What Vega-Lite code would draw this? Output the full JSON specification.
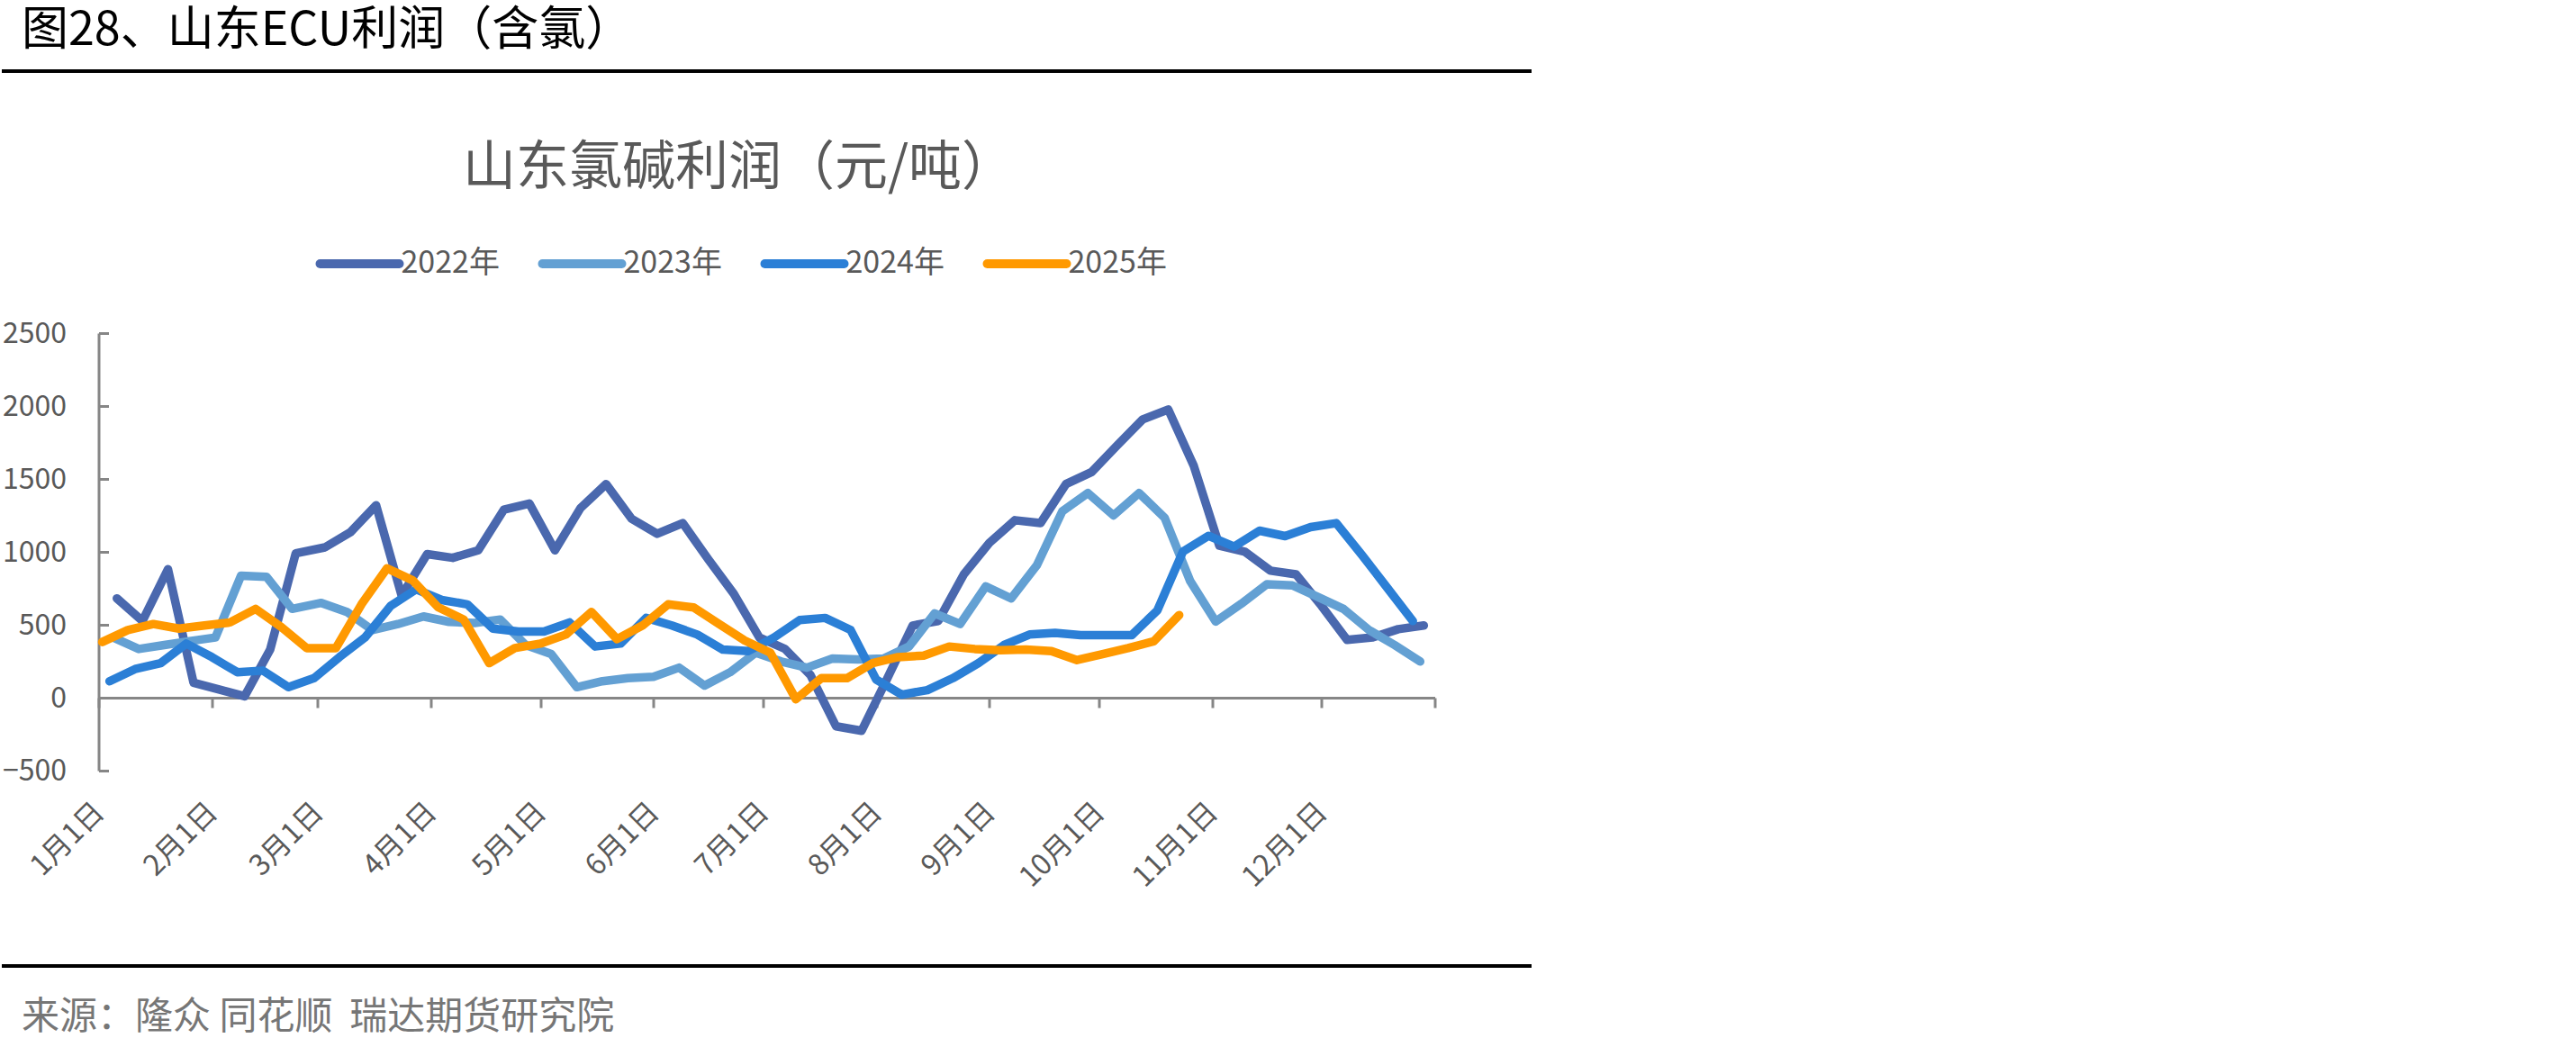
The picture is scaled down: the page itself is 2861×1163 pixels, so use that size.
{
  "$schema": "https://vega.github.io/schema/vega-lite/v6.json",
  "background": "white",
  "padding": {"left": 0, "top": 8, "right": 0, "bottom": 0},
  "config": {
    "view": {"stroke": null},
    "font": "Noto Sans CJK SC",
    "title": {"font": "Noto Sans CJK SC", "fontWeight": "normal"}
  },
  "bounds": "flush",
  "center": true,
  "spacing": 217,
  "resolve": {"legend": {"color": "independent"}},
  "vconcat": [
    {
      "width": 1699,
      "height": 74,
      "title": {"text": "图28、山东ECU利润（含氯）", "anchor": "start", "frame": "group", "fontSize": 52, "color": "#000000", "dx": 22, "offset": 16},
      "data": {"values": [{}]},
      "mark": {"type": "rule", "color": "#000000", "strokeWidth": 4},
      "encoding": {"y": {"datum": 1, "type": "quantitative", "scale": {"domain": [0, 1]}, "axis": null}}
    },
    {
      "width": 1484,
      "height": 486,
      "title": {"text": "山东氯碱利润（元/吨）", "anchor": "middle", "frame": "group", "fontSize": 59, "color": "#595959", "dx": -31, "offset": 27},
      "data": {"values": [
        {"series": "2022年", "date": "2022/01/06", "profit": 681},
        {"series": "2022年", "date": "2022/01/13", "profit": 526},
        {"series": "2022年", "date": "2022/01/20", "profit": 881},
        {"series": "2022年", "date": "2022/01/27", "profit": 103},
        {"series": "2022年", "date": "2022/02/03", "profit": 56},
        {"series": "2022年", "date": "2022/02/10", "profit": 10},
        {"series": "2022年", "date": "2022/02/17", "profit": 330},
        {"series": "2022年", "date": "2022/02/24", "profit": 990},
        {"series": "2022年", "date": "2022/03/03", "profit": 1031},
        {"series": "2022年", "date": "2022/03/10", "profit": 1135},
        {"series": "2022年", "date": "2022/03/17", "profit": 1320},
        {"series": "2022年", "date": "2022/03/24", "profit": 701},
        {"series": "2022年", "date": "2022/03/31", "profit": 985},
        {"series": "2022年", "date": "2022/04/07", "profit": 959},
        {"series": "2022年", "date": "2022/04/14", "profit": 1011},
        {"series": "2022年", "date": "2022/04/21", "profit": 1289},
        {"series": "2022年", "date": "2022/04/28", "profit": 1331},
        {"series": "2022年", "date": "2022/05/05", "profit": 1011},
        {"series": "2022年", "date": "2022/05/12", "profit": 1300},
        {"series": "2022年", "date": "2022/05/19", "profit": 1465},
        {"series": "2022年", "date": "2022/05/26", "profit": 1227},
        {"series": "2022年", "date": "2022/06/02", "profit": 1124},
        {"series": "2022年", "date": "2022/06/09", "profit": 1197},
        {"series": "2022年", "date": "2022/06/16", "profit": 949},
        {"series": "2022年", "date": "2022/06/23", "profit": 712},
        {"series": "2022年", "date": "2022/06/30", "profit": 413},
        {"series": "2022年", "date": "2022/07/07", "profit": 335},
        {"series": "2022年", "date": "2022/07/14", "profit": 155},
        {"series": "2022年", "date": "2022/07/21", "profit": -196},
        {"series": "2022年", "date": "2022/07/28", "profit": -227},
        {"series": "2022年", "date": "2022/08/04", "profit": 130},
        {"series": "2022年", "date": "2022/08/11", "profit": 495},
        {"series": "2022年", "date": "2022/08/18", "profit": 526},
        {"series": "2022年", "date": "2022/08/25", "profit": 846},
        {"series": "2022年", "date": "2022/09/01", "profit": 1062},
        {"series": "2022年", "date": "2022/09/08", "profit": 1217},
        {"series": "2022年", "date": "2022/09/15", "profit": 1197},
        {"series": "2022年", "date": "2022/09/22", "profit": 1465},
        {"series": "2022年", "date": "2022/09/29", "profit": 1547},
        {"series": "2022年", "date": "2022/10/06", "profit": 1730},
        {"series": "2022年", "date": "2022/10/13", "profit": 1908},
        {"series": "2022年", "date": "2022/10/20", "profit": 1976},
        {"series": "2022年", "date": "2022/10/27", "profit": 1589},
        {"series": "2022年", "date": "2022/11/03", "profit": 1042},
        {"series": "2022年", "date": "2022/11/10", "profit": 1001},
        {"series": "2022年", "date": "2022/11/17", "profit": 871},
        {"series": "2022年", "date": "2022/11/24", "profit": 846},
        {"series": "2022年", "date": "2022/12/01", "profit": 629},
        {"series": "2022年", "date": "2022/12/08", "profit": 396},
        {"series": "2022年", "date": "2022/12/15", "profit": 413},
        {"series": "2022年", "date": "2022/12/22", "profit": 470},
        {"series": "2022年", "date": "2022/12/29", "profit": 495},
        {"series": "2023年", "date": "2023/01/05", "profit": 413},
        {"series": "2023年", "date": "2023/01/12", "profit": 334},
        {"series": "2023年", "date": "2023/01/19", "profit": 361},
        {"series": "2023年", "date": "2023/01/26", "profit": 388},
        {"series": "2023年", "date": "2023/02/02", "profit": 413},
        {"series": "2023年", "date": "2023/02/09", "profit": 836},
        {"series": "2023年", "date": "2023/02/16", "profit": 829},
        {"series": "2023年", "date": "2023/02/23", "profit": 609},
        {"series": "2023年", "date": "2023/03/02", "profit": 650},
        {"series": "2023年", "date": "2023/03/09", "profit": 588},
        {"series": "2023年", "date": "2023/03/16", "profit": 464},
        {"series": "2023年", "date": "2023/03/23", "profit": 505},
        {"series": "2023年", "date": "2023/03/30", "profit": 557},
        {"series": "2023年", "date": "2023/04/06", "profit": 520},
        {"series": "2023年", "date": "2023/04/13", "profit": 512},
        {"series": "2023年", "date": "2023/04/20", "profit": 536},
        {"series": "2023年", "date": "2023/04/27", "profit": 361},
        {"series": "2023年", "date": "2023/05/04", "profit": 299},
        {"series": "2023年", "date": "2023/05/11", "profit": 72},
        {"series": "2023年", "date": "2023/05/18", "profit": 113},
        {"series": "2023年", "date": "2023/05/25", "profit": 134},
        {"series": "2023年", "date": "2023/06/01", "profit": 144},
        {"series": "2023年", "date": "2023/06/08", "profit": 206},
        {"series": "2023年", "date": "2023/06/15", "profit": 83},
        {"series": "2023年", "date": "2023/06/22", "profit": 175},
        {"series": "2023年", "date": "2023/06/29", "profit": 309},
        {"series": "2023年", "date": "2023/07/06", "profit": 248},
        {"series": "2023年", "date": "2023/07/13", "profit": 206},
        {"series": "2023年", "date": "2023/07/20", "profit": 268},
        {"series": "2023年", "date": "2023/07/27", "profit": 262},
        {"series": "2023年", "date": "2023/08/03", "profit": 268},
        {"series": "2023年", "date": "2023/08/10", "profit": 351},
        {"series": "2023年", "date": "2023/08/17", "profit": 578},
        {"series": "2023年", "date": "2023/08/24", "profit": 505},
        {"series": "2023年", "date": "2023/08/31", "profit": 763},
        {"series": "2023年", "date": "2023/09/07", "profit": 681},
        {"series": "2023年", "date": "2023/09/14", "profit": 908},
        {"series": "2023年", "date": "2023/09/21", "profit": 1279},
        {"series": "2023年", "date": "2023/09/28", "profit": 1403},
        {"series": "2023年", "date": "2023/10/05", "profit": 1250},
        {"series": "2023年", "date": "2023/10/12", "profit": 1403},
        {"series": "2023年", "date": "2023/10/19", "profit": 1234},
        {"series": "2023年", "date": "2023/10/26", "profit": 800},
        {"series": "2023年", "date": "2023/11/02", "profit": 522},
        {"series": "2023年", "date": "2023/11/09", "profit": 644},
        {"series": "2023年", "date": "2023/11/16", "profit": 778},
        {"series": "2023年", "date": "2023/11/23", "profit": 770},
        {"series": "2023年", "date": "2023/11/30", "profit": 691},
        {"series": "2023年", "date": "2023/12/07", "profit": 609},
        {"series": "2023年", "date": "2023/12/14", "profit": 464},
        {"series": "2023年", "date": "2023/12/21", "profit": 361},
        {"series": "2023年", "date": "2023/12/28", "profit": 248},
        {"series": "2024年", "date": "2024/01/04", "profit": 113},
        {"series": "2024年", "date": "2024/01/11", "profit": 196},
        {"series": "2024年", "date": "2024/01/18", "profit": 237},
        {"series": "2024年", "date": "2024/01/25", "profit": 371},
        {"series": "2024年", "date": "2024/02/01", "profit": 279},
        {"series": "2024年", "date": "2024/02/08", "profit": 175},
        {"series": "2024年", "date": "2024/02/15", "profit": 186},
        {"series": "2024年", "date": "2024/02/22", "profit": 72},
        {"series": "2024年", "date": "2024/02/29", "profit": 134},
        {"series": "2024年", "date": "2024/03/07", "profit": 279},
        {"series": "2024年", "date": "2024/03/14", "profit": 413},
        {"series": "2024年", "date": "2024/03/21", "profit": 629},
        {"series": "2024年", "date": "2024/03/28", "profit": 743},
        {"series": "2024年", "date": "2024/04/04", "profit": 670},
        {"series": "2024年", "date": "2024/04/11", "profit": 640},
        {"series": "2024年", "date": "2024/04/18", "profit": 474},
        {"series": "2024年", "date": "2024/04/25", "profit": 454},
        {"series": "2024年", "date": "2024/05/02", "profit": 454},
        {"series": "2024年", "date": "2024/05/09", "profit": 516},
        {"series": "2024年", "date": "2024/05/16", "profit": 351},
        {"series": "2024年", "date": "2024/05/23", "profit": 371},
        {"series": "2024年", "date": "2024/05/30", "profit": 547},
        {"series": "2024年", "date": "2024/06/06", "profit": 495},
        {"series": "2024年", "date": "2024/06/13", "profit": 433},
        {"series": "2024年", "date": "2024/06/20", "profit": 330},
        {"series": "2024年", "date": "2024/06/27", "profit": 320},
        {"series": "2024年", "date": "2024/07/04", "profit": 413},
        {"series": "2024年", "date": "2024/07/11", "profit": 532},
        {"series": "2024年", "date": "2024/07/18", "profit": 547},
        {"series": "2024年", "date": "2024/07/25", "profit": 464},
        {"series": "2024年", "date": "2024/08/01", "profit": 124},
        {"series": "2024年", "date": "2024/08/08", "profit": 21},
        {"series": "2024年", "date": "2024/08/15", "profit": 52},
        {"series": "2024年", "date": "2024/08/22", "profit": 134},
        {"series": "2024年", "date": "2024/08/29", "profit": 237},
        {"series": "2024年", "date": "2024/09/05", "profit": 361},
        {"series": "2024年", "date": "2024/09/12", "profit": 433},
        {"series": "2024年", "date": "2024/09/19", "profit": 444},
        {"series": "2024年", "date": "2024/09/26", "profit": 429},
        {"series": "2024年", "date": "2024/10/03", "profit": 429},
        {"series": "2024年", "date": "2024/10/10", "profit": 429},
        {"series": "2024年", "date": "2024/10/17", "profit": 598},
        {"series": "2024年", "date": "2024/10/24", "profit": 1001},
        {"series": "2024年", "date": "2024/10/31", "profit": 1110},
        {"series": "2024年", "date": "2024/11/07", "profit": 1036},
        {"series": "2024年", "date": "2024/11/14", "profit": 1145},
        {"series": "2024年", "date": "2024/11/21", "profit": 1108},
        {"series": "2024年", "date": "2024/11/28", "profit": 1170},
        {"series": "2024年", "date": "2024/12/05", "profit": 1197},
        {"series": "2024年", "date": "2024/12/12", "profit": 980},
        {"series": "2024年", "date": "2024/12/19", "profit": 753},
        {"series": "2024年", "date": "2024/12/26", "profit": 526},
        {"series": "2025年", "date": "2025/01/02", "profit": 382},
        {"series": "2025年", "date": "2025/01/09", "profit": 464},
        {"series": "2025年", "date": "2025/01/16", "profit": 505},
        {"series": "2025年", "date": "2025/01/23", "profit": 474},
        {"series": "2025年", "date": "2025/01/30", "profit": 495},
        {"series": "2025年", "date": "2025/02/06", "profit": 516},
        {"series": "2025年", "date": "2025/02/13", "profit": 609},
        {"series": "2025年", "date": "2025/02/20", "profit": 485},
        {"series": "2025年", "date": "2025/02/27", "profit": 340},
        {"series": "2025年", "date": "2025/03/06", "profit": 340},
        {"series": "2025年", "date": "2025/03/13", "profit": 640},
        {"series": "2025年", "date": "2025/03/20", "profit": 887},
        {"series": "2025年", "date": "2025/03/27", "profit": 805},
        {"series": "2025年", "date": "2025/04/03", "profit": 620},
        {"series": "2025年", "date": "2025/04/10", "profit": 536},
        {"series": "2025年", "date": "2025/04/17", "profit": 237},
        {"series": "2025年", "date": "2025/04/24", "profit": 340},
        {"series": "2025年", "date": "2025/05/01", "profit": 371},
        {"series": "2025年", "date": "2025/05/08", "profit": 433},
        {"series": "2025年", "date": "2025/05/15", "profit": 588},
        {"series": "2025年", "date": "2025/05/22", "profit": 402},
        {"series": "2025年", "date": "2025/05/29", "profit": 495},
        {"series": "2025年", "date": "2025/06/05", "profit": 640},
        {"series": "2025年", "date": "2025/06/12", "profit": 619},
        {"series": "2025年", "date": "2025/06/19", "profit": 505},
        {"series": "2025年", "date": "2025/06/26", "profit": 392},
        {"series": "2025年", "date": "2025/07/03", "profit": 309},
        {"series": "2025年", "date": "2025/07/10", "profit": -10},
        {"series": "2025年", "date": "2025/07/17", "profit": 134},
        {"series": "2025年", "date": "2025/07/24", "profit": 134},
        {"series": "2025年", "date": "2025/07/31", "profit": 237},
        {"series": "2025年", "date": "2025/08/07", "profit": 278},
        {"series": "2025年", "date": "2025/08/14", "profit": 289},
        {"series": "2025年", "date": "2025/08/21", "profit": 351},
        {"series": "2025年", "date": "2025/08/28", "profit": 334},
        {"series": "2025年", "date": "2025/09/04", "profit": 326},
        {"series": "2025年", "date": "2025/09/11", "profit": 330},
        {"series": "2025年", "date": "2025/09/18", "profit": 320},
        {"series": "2025年", "date": "2025/09/25", "profit": 258},
        {"series": "2025年", "date": "2025/10/02", "profit": 299},
        {"series": "2025年", "date": "2025/10/09", "profit": 340},
        {"series": "2025年", "date": "2025/10/16", "profit": 386},
        {"series": "2025年", "date": "2025/10/23", "profit": 567}
      ]},
      "mark": {"type": "line", "strokeWidth": 9.5, "strokeCap": "round", "strokeJoin": "round"},
      "encoding": {
        "x": {
          "field": "date",
          "timeUnit": "monthdate",
          "type": "temporal",
          "scale": {"domain": [{"month": 1, "date": 1}, {"year": 2013, "month": 1, "date": 1}], "nice": false},
          "axis": {
            "title": null,
            "grid": false,
            "offset": -81,
            "domainColor": "#868686",
            "domainWidth": 3,
            "tickColor": "#868686",
            "tickWidth": 3,
            "tickSize": 11,
            "values": [
              {"month": 1, "date": 1}, {"month": 2, "date": 1}, {"month": 3, "date": 1},
              {"month": 4, "date": 1}, {"month": 5, "date": 1}, {"month": 6, "date": 1},
              {"month": 7, "date": 1}, {"month": 8, "date": 1}, {"month": 9, "date": 1},
              {"month": 10, "date": 1}, {"month": 11, "date": 1}, {"month": 12, "date": 1},
              {"year": 2013, "month": 1, "date": 1}
            ],
            "labelExpr": "year(datum.value) > 2012 ? '' : timeFormat(datum.value, '%-m月%-d日')",
            "labelAngle": -45,
            "labelFontSize": 32,
            "labelFont": "Noto Sans CJK SC",
            "labelColor": "#595959",
            "labelPadding": 100,
            "labelOffset": -10,
            "labelFlush": false,
            "labelOverlap": false,
            "labelBound": false
          }
        },
        "y": {
          "field": "profit",
          "type": "quantitative",
          "scale": {"domain": [-500, 2500], "nice": false, "zero": false},
          "axis": {
            "title": null,
            "grid": false,
            "values": [-500, 0, 500, 1000, 1500, 2000, 2500],
            "format": "d",
            "domainColor": "#868686",
            "domainWidth": 3,
            "tickColor": "#868686",
            "tickWidth": 3,
            "tickSize": -11,
            "labelFontSize": 32,
            "labelFont": "Noto Sans CJK SC",
            "labelColor": "#595959",
            "labelPadding": 47
          }
        },
        "color": {
          "field": "series",
          "type": "nominal",
          "scale": {"domain": ["2022年", "2023年", "2024年", "2025年"], "range": ["#4A68AE", "#63A0D3", "#2B7FD6", "#FF9900"]},
          "legend": {
            "title": null,
            "orient": "none",
            "direction": "horizontal",
            "legendX": 241,
            "legendY": -126,
            "symbolType": "stroke",
            "symbolSize": 7744,
            "symbolStrokeWidth": 10,
            "labelFontSize": 34,
            "labelFont": "Noto Sans CJK SC",
            "labelColor": "#595959",
            "labelOffset": -3,
            "columnPadding": 27,
            "encode": {"symbols": {"update": {"strokeCap": {"value": "round"}}}}
          }
        }
      }
    },
    {
      "width": 1699,
      "height": 1,
      "title": {"text": "来源：隆众 同花顺\u00a0\u00a0瑞达期货研究院", "orient": "bottom", "anchor": "start", "frame": "group", "fontSize": 42, "color": "#767676", "dx": 22, "offset": 35},
      "data": {"values": [{}]},
      "mark": {"type": "rule", "color": "#000000", "strokeWidth": 4},
      "encoding": {"y": {"datum": 1, "type": "quantitative", "scale": {"domain": [0, 1]}, "axis": null}}
    }
  ]
}
